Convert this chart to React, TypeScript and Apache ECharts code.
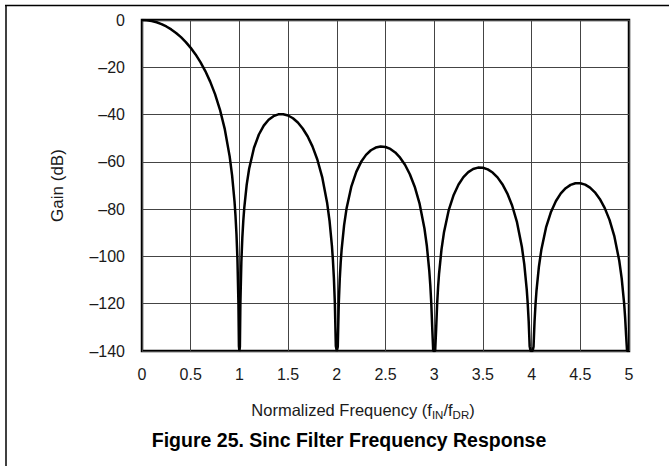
import React, { useEffect, useRef } from "react";
import * as echarts from "echarts";

// Normalized frequency (f_IN / f_DR)
const freq: number[] = [
  0, 0.05, 0.1, 0.15, 0.2, 0.25, 0.3, 0.35, 0.4, 0.45, 0.5, 0.55, 0.6, 0.65, 0.7, 0.75, 0.8, 0.85, 0.9, 0.925, 0.95, 0.96, 0.97, 0.98, 0.99, 0.995,
  1.0, 1.005, 1.01, 1.02, 1.03, 1.04, 1.05, 1.075, 1.1, 1.15, 1.2, 1.25, 1.3, 1.35, 1.4, 1.45, 1.5, 1.55, 1.6, 1.65, 1.7, 1.75, 1.8, 1.85, 1.9, 1.925, 1.95, 1.96, 1.97, 1.98, 1.99,
  2.0, 2.01, 2.02, 2.03, 2.04, 2.05, 2.075, 2.1, 2.15, 2.2, 2.25, 2.3, 2.35, 2.4, 2.45, 2.5, 2.55, 2.6, 2.65, 2.7, 2.75, 2.8, 2.85, 2.9, 2.925, 2.95, 2.96, 2.97, 2.98, 2.99,
  3.0, 3.01, 3.02, 3.03, 3.04, 3.05, 3.075, 3.1, 3.15, 3.2, 3.25, 3.3, 3.35, 3.4, 3.45, 3.5, 3.55, 3.6, 3.65, 3.7, 3.75, 3.8, 3.85, 3.9, 3.925, 3.95, 3.96, 3.97, 3.98, 3.99,
  4.0, 4.01, 4.02, 4.03, 4.04, 4.05, 4.075, 4.1, 4.15, 4.2, 4.25, 4.3, 4.35, 4.4, 4.45, 4.5, 4.55, 4.6, 4.65, 4.7, 4.75, 4.8, 4.85, 4.9, 4.925, 4.95, 4.96, 4.97, 4.98, 5.0,
];

// Gain (dB)
const gain: number[] = [
  0, -0.11, -0.43, -0.97, -1.74, -2.74, -3.98, -5.48, -7.26, -9.34, -11.77, -14.57, -17.83, -21.61, -26.06, -31.36, -37.86, -46.17, -57.68, -65.71, -76.83, -82.88, -90.62, -101.43, -119.74, -137.9,
  -140, -138.19, -120.26, -102.47, -92.18, -84.97, -79.44, -69.62, -62.91, -54.05, -48.43, -44.67, -42.19, -40.66, -39.9, -39.83, -40.39, -41.57, -43.38, -45.89, -49.18, -53.44, -58.99, -66.44, -77.16, -84.8, -95.57, -101.48, -109.08, -119.76, -137.94,
  -140, -138.2, -120.28, -109.86, -102.52, -96.87, -86.76, -79.76, -70.35, -64.22, -59.99, -57.06, -55.1, -53.95, -53.5, -53.71, -54.54, -56.03, -58.23, -61.23, -65.22, -70.51, -77.7, -88.17, -95.71, -106.36, -112.22, -119.78, -130.41, -140,
  -140, -140, -130.76, -120.3, -112.92, -107.23, -97.01, -89.91, -80.3, -73.98, -69.57, -66.46, -64.34, -63.03, -62.42, -62.47, -63.17, -64.51, -66.57, -69.44, -73.3, -78.46, -85.53, -95.89, -103.37, -113.97, -119.81, -127.34, -137.95, -140,
  -140, -140, -138.21, -127.73, -120.33, -114.62, -104.35, -97.2, -87.49, -81.07, -76.56, -73.36, -71.15, -69.74, -69.05, -69.02, -69.63, -70.9, -72.88, -75.68, -79.46, -84.55, -91.55, -101.84, -109.28, -119.84, -125.67, -133.19, -140, -140,
];

const xTitle = ["Normalized Frequency (f", "IN", "/f", "DR", ")"];
const yTitle = "Gain (dB)";
const figTitle = "Figure 25. Sinc Filter Frequency Response";

const FONT = "'Liberation Sans', Arial, Helvetica, sans-serif";

export default function App() {
  const ref = useRef<HTMLDivElement>(null);
  useEffect(() => {
    if (!ref.current) return;
    const chart = echarts.init(ref.current, undefined, { renderer: "svg" });
    const data = freq.map((f, i) => [f, gain[i]]);
    chart.setOption({
      animation: false,
      backgroundColor: "#fff",
      textStyle: { fontFamily: FONT },
      grid: {
        left: 142,
        top: 20,
        width: 487,
        height: 331,
        show: true,
        borderColor: "#000",
        borderWidth: 2.5,
        backgroundColor: "transparent",
      },
      xAxis: {
        type: "value",
        min: 0,
        max: 5,
        interval: 0.5,
        axisLine: { show: false },
        axisTick: { show: false },
        splitLine: { show: true, lineStyle: { color: "#444", width: 1 } },
        axisLabel: {
          color: "#1a1a1a",
          fontSize: 16,
          fontFamily: FONT,
          margin: 15,
          formatter: (v: number) => String(v),
        },
      },
      yAxis: {
        type: "value",
        min: -140,
        max: 0,
        interval: 20,
        name: yTitle,
        nameLocation: "middle",
        nameGap: 76,
        nameTextStyle: { color: "#1a1a1a", fontSize: 17, fontFamily: FONT },
        axisLine: { show: false },
        axisTick: { show: false },
        splitLine: { show: true, lineStyle: { color: "#444", width: 1 } },
        axisLabel: {
          color: "#1a1a1a",
          fontSize: 16,
          fontFamily: FONT,
          margin: 17,
          formatter: (v: number) => (v < 0 ? "\u2013" + Math.abs(v) : String(v)),
        },
      },
      series: [
        {
          type: "line",
          data,
          showSymbol: false,
          symbol: "none",
          smooth: false,
          clip: true,
          lineStyle: { color: "#000", width: 2.5 },
          z: 5,
        },
      ],
      graphic: [
        {
          type: "line",
          shape: { x1: 6, y1: 5, x2: 6, y2: 466 },
          style: { stroke: "#000", lineWidth: 1.5 },
        },
        {
          type: "line",
          shape: { x1: 5, y1: 5.5, x2: 669, y2: 5.5 },
          style: { stroke: "#000", lineWidth: 1.5 },
        },
        {
          type: "text",
          x: 363,
          y: 410,
          style: {
            text: `{a|${xTitle[0]}}{s|${xTitle[1]}}{a|${xTitle[2]}}{s|${xTitle[3]}}{a|${xTitle[4]}}`,
            align: "center",
            verticalAlign: "middle",
            rich: {
              a: { fontSize: 16.5, fontFamily: FONT, fill: "#1a1a1a", lineHeight: 20, verticalAlign: "middle" },
              s: { fontSize: 11.5, fontFamily: FONT, fill: "#1a1a1a", lineHeight: 20, padding: [9, 0, 0, 0], verticalAlign: "middle" },
            },
          },
        },
        {
          type: "text",
          x: 349,
          y: 440,
          style: {
            text: figTitle,
            align: "center",
            verticalAlign: "middle",
            fontSize: 19.5,
            fontWeight: "bold",
            fontFamily: FONT,
            fill: "#000",
          },
        },
      ],
    });
    return () => chart.dispose();
  }, []);
  return (
    <div
      ref={ref}
      style={{ position: "absolute", left: 0, top: 0, width: 669, height: 466 }}
    />
  );
}
